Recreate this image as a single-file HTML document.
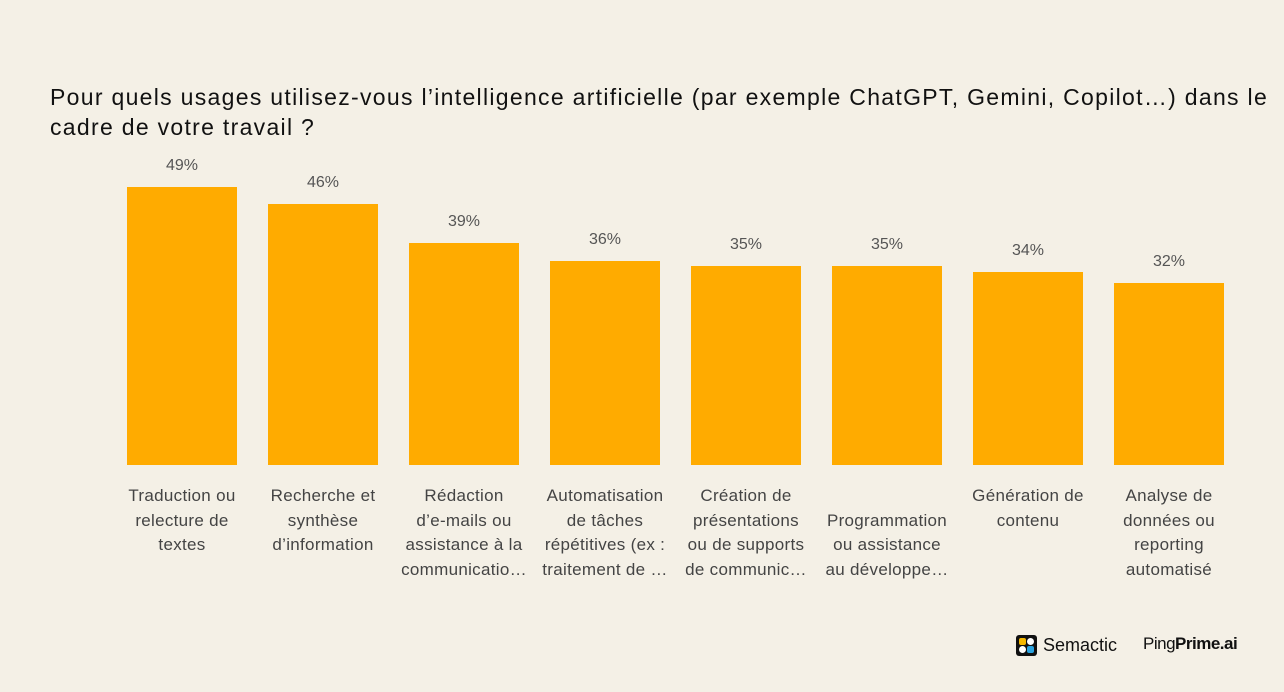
<!DOCTYPE html>
<html><head><meta charset="utf-8"><style>
body{margin:0;width:1284px;height:692px;background:#f4f0e6;font-family:"Liberation Sans","DejaVu Sans",sans-serif;overflow:hidden;position:relative}
#title{position:absolute;left:50px;top:82px;width:1232px;font-size:23px;letter-spacing:1.3px;line-height:30px;color:#111}
.lbl{position:absolute;width:151px;text-align:center;font-size:17px;letter-spacing:0.3px;line-height:24.5px;color:#444}
.val{position:absolute;width:110px;text-align:center;font-size:16px;color:#555}
</style></head><body>
<div id="title">Pour quels usages utilisez-vous l’intelligence artificielle (par exemple ChatGPT, Gemini, Copilot…) dans le cadre de votre travail ?</div>
<div id="chart"></div>
<div style="position:absolute;left:1016px;top:635px;display:flex;align-items:center">
<svg width="21" height="21" viewBox="0 0 21 21"><rect width="21" height="21" rx="3" fill="#111"/><rect x="3" y="3" width="7" height="7" rx="2" fill="#f5b800"/><rect x="11" y="3" width="7" height="7" rx="3.5" fill="#fff"/><rect x="3" y="11" width="7" height="7" rx="3.5" fill="#fff"/><rect x="11" y="11" width="7" height="7" rx="2" fill="#2aa3e0"/></svg>
<span style="margin-left:6px;font-size:18px;color:#111">Semactic</span></div>
<div style="position:absolute;left:1143px;top:634px;font-size:17px;color:#111;letter-spacing:-0.5px"><span style="font-weight:300">Ping</span><b>Prime.ai</b></div>
<script>
const categories=["Traduction ou<br>relecture de<br>textes","Recherche et<br>synthèse<br>d’information","Rédaction<br>d’e-mails ou<br>assistance à la<br>communicatio…","Automatisation<br>de tâches<br>répétitives (ex :<br>traitement de …","Création de<br>présentations<br>ou de supports<br>de communic…","<br>Programmation<br>ou assistance<br>au développe…","Génération de<br>contenu","Analyse de<br>données ou<br>reporting<br>automatisé"];
const values=[49,46,39,36,35,35,34,32];
const chart=document.getElementById('chart');
const base=465,scale=5.68,x0=127,step=141,bw=110;
function y(v){return base-v*scale;}
values.forEach((v,i)=>{
  const b=document.createElement('div');
  
  
  b.style.cssText=`position:absolute;left:${x0+i*step}px;top:${y(v)}px;width:${bw}px;height:${base-y(v)}px;background:#ffab00`;
  chart.appendChild(b);
  const t=document.createElement('div');
  t.className='val';
  
  
  t.style.left=(x0+i*step)+'px';t.style.top=(y(v)-30)+'px';
  t.textContent=v+'%';
  chart.appendChild(t);
  const l=document.createElement('div');
  l.className='lbl';
  
  
  l.style.left=(x0+bw/2-75.5+i*step)+'px';l.style.top='484px';
  l.innerHTML=categories[i];
  chart.appendChild(l);
});
</script>
</body></html>
